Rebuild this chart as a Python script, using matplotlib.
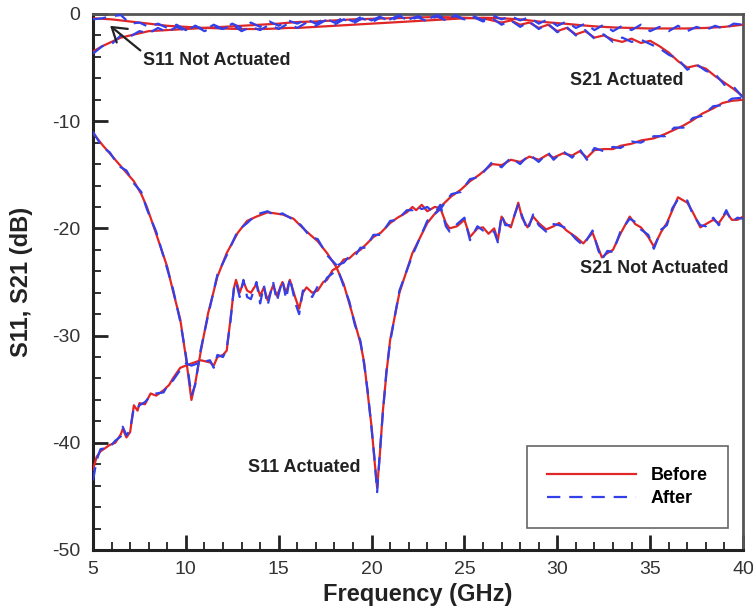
import matplotlib
matplotlib.use("Agg")
import matplotlib.pyplot as plt
from matplotlib.ticker import MultipleLocator

plt.rcParams['font.family'] = ['Liberation Sans', 'DejaVu Sans']

# ---------------- data ----------------
# S11 Actuated (dips at ~10.3 and ~20.3 GHz)
s11_act_f = [5.0, 5.5, 5.9, 6.4, 6.8, 7.2, 7.6, 7.9, 8.4, 9.0, 9.3, 9.7, 10.0, 10.3, 10.5, 10.8,
             11.2, 11.7, 12.2, 12.8, 13.3, 13.8, 14.4, 14.8, 15.2, 15.8, 16.2, 16.7, 17.1, 17.6,
             18.1, 18.5, 18.8, 19.1, 19.4, 19.6, 19.8, 20.0, 20.15, 20.3, 20.45, 20.6, 20.8, 21.0,
             21.5, 22.2, 23.0, 23.7, 24.3, 24.8, 25.3, 25.8, 26.5, 27.0, 27.5, 28.0, 28.5, 29.0,
             29.5, 29.8, 30.3, 30.8, 31.2, 31.6, 32.0, 32.5, 33.0, 33.4, 34.0, 34.5, 35.2, 35.8,
             36.3, 36.8, 37.3, 37.8, 38.4, 38.9, 39.4, 40.0]
s11_act_before = [-11.1, -12.2, -13.0, -14.0, -14.8, -15.6, -16.8, -18.0, -20.5, -23.6, -25.8, -28.5,
                  -32.0, -36.0, -34.5, -31.5, -27.9, -24.5, -22.3, -20.4, -19.3, -18.9, -18.5, -18.6,
                  -18.7, -19.1, -19.8, -20.6, -21.2, -22.3, -23.6, -25.2, -27.0, -28.8, -30.7, -32.5,
                  -35.5, -38.5, -41.5, -44.2, -41.0, -37.2, -33.5, -30.4, -26.0, -22.3, -19.5, -18.0,
                  -17.0, -16.4, -15.6, -15.0, -14.0, -14.1, -13.6, -13.8, -13.3, -13.6, -13.1, -13.4,
                  -13.0, -13.2, -12.8, -13.4, -12.7, -12.6, -12.6, -12.3, -12.1, -11.8, -11.6, -11.2,
                  -10.8, -10.4, -9.9, -9.3, -8.8, -8.3, -8.1, -8.0]
s11_act_after = [-11.0, -12.4, -12.9, -14.2, -14.6, -15.8, -16.6, -18.2, -20.3, -23.8, -25.6, -28.7,
                 -31.8, -35.6, -34.6, -31.3, -28.1, -24.3, -22.5, -20.2, -19.5, -18.7, -18.4, -18.8,
                 -18.6, -19.2, -19.7, -20.8, -21.0, -22.5, -23.4, -25.4, -26.8, -29.0, -30.5, -32.7,
                 -35.3, -38.7, -41.3, -44.6, -40.8, -37.4, -33.3, -30.6, -25.8, -22.5, -19.3, -18.2,
                 -16.8, -16.6, -15.4, -15.2, -13.8, -14.3, -13.4, -14.0, -13.1, -13.8, -12.9, -13.6,
                 -12.8, -13.4, -12.6, -13.6, -12.5, -12.8, -12.4, -12.5, -11.9, -12.0, -11.4, -11.4,
                 -10.6, -10.6, -9.7, -9.5, -8.6, -8.5, -7.9, -7.8]

# S21 Not Actuated
s21_nact_f = [5.0, 5.2, 5.4, 5.9, 6.2, 6.5, 6.6, 6.8, 7.0, 7.2, 7.4, 7.5, 7.8, 8.1, 8.4, 8.8, 9.1,
              9.3, 9.7, 10.0, 10.3, 10.8, 11.3, 11.5, 11.7, 12.0, 12.2, 12.4, 12.6, 12.7, 12.9, 13.1,
              13.3, 13.5, 13.8, 14.0, 14.2, 14.4, 14.7, 14.9, 15.2, 15.4, 15.6, 15.9, 16.1, 16.3,
              16.5, 16.8, 17.1, 17.4, 17.6, 17.9, 18.2, 18.5, 18.8, 19.1, 19.4, 19.7, 20.1, 20.5,
              21.0, 21.4, 21.9, 22.2, 22.4, 22.7, 23.0, 23.4, 23.7, 24.0, 24.2, 24.6, 25.0, 25.3,
              25.7, 26.0, 26.3, 26.6, 26.8, 27.0, 27.2, 27.5, 27.9, 28.1, 28.4, 28.7, 29.0, 29.4,
              29.8, 30.1, 30.5, 31.0, 31.4, 31.9, 32.2, 32.4, 32.7, 33.0, 33.4, 33.9, 34.2, 34.5,
              34.9, 35.2, 35.6, 35.9, 36.2, 36.5, 37.0, 37.3, 37.7, 38.0, 38.4, 38.7, 39.1, 39.4,
              39.7, 40.0]
s21_nact_before = [-42.5, -41.3, -40.8, -40.2, -40.0, -39.2, -38.7, -39.5, -39.0, -36.5, -37.0, -36.3,
                   -36.4, -35.4, -35.6, -35.1, -34.6, -34.0, -33.0, -32.8, -32.6, -32.3, -32.5, -32.8,
                   -32.0, -31.8, -31.4, -28.5, -25.5, -24.8, -26.0, -25.0, -25.8, -26.0, -25.2, -26.3,
                   -25.5, -26.7, -25.3, -26.3, -25.0, -26.0, -24.8, -26.5, -27.5, -26.0, -25.5, -26.0,
                   -25.8, -25.0, -24.8, -23.9, -23.6, -22.9, -22.8, -22.3, -22.0, -21.5, -20.8, -20.4,
                   -19.5, -19.0, -18.5, -18.0, -18.3, -17.8, -18.4, -18.0, -18.1, -19.5, -20.0, -19.8,
                   -19.2, -20.8, -20.0, -19.9, -20.5, -20.0, -21.1, -18.9, -19.5, -19.9, -17.6, -19.0,
                   -19.9, -18.9, -19.5, -20.1, -19.8, -19.5, -20.2, -20.8, -21.4, -20.4, -21.8, -22.7,
                   -22.3, -22.0, -20.5, -18.9, -19.6, -19.9, -20.8, -21.7, -20.3, -19.5, -18.3, -17.1,
                   -17.6, -18.5, -19.9, -19.6, -19.2, -19.5, -18.5, -19.2, -19.2, -18.9]
s21_nact_after = [-43.5, -41.6, -40.6, -40.4, -39.8, -39.4, -38.5, -39.3, -38.8, -36.7, -36.8, -36.5,
                  -36.2, -35.6, -35.4, -35.3, -34.4, -34.2, -33.2, -32.6, -32.8, -32.5, -32.3, -33.0,
                  -31.8, -32.0, -31.2, -28.7, -25.3, -25.0, -26.4, -24.8, -26.4, -26.6, -25.0, -27.0,
                  -25.3, -27.2, -25.0, -26.8, -24.8, -26.6, -24.6, -27.0, -28.0, -25.8, -25.8, -26.4,
                  -25.4, -25.3, -24.6, -24.2, -23.4, -23.2, -22.6, -22.6, -21.8, -21.8, -20.6, -20.6,
                  -19.3, -19.2, -18.3, -18.3, -17.9, -18.2, -18.0, -18.6, -17.8, -19.8, -20.3, -19.6,
                  -19.0, -21.1, -19.8, -20.2, -20.3, -20.3, -21.3, -18.7, -19.7, -19.7, -17.8, -18.8,
                  -20.2, -18.7, -19.7, -20.3, -19.6, -19.7, -20.0, -21.0, -21.6, -20.2, -22.0, -22.9,
                  -22.1, -22.2, -20.3, -19.1, -19.4, -20.1, -20.6, -21.9, -20.1, -19.7, -18.1, -17.3,
                  -17.4, -18.7, -19.7, -19.8, -19.0, -19.7, -18.3, -19.4, -19.0, -19.1]

# Top curves on a 0.5 GHz grid
top_f = [5.0, 5.5, 6.0, 6.5, 7.0, 7.5, 8.0, 8.5, 9.0, 9.5, 10.0, 10.5, 11.0, 11.5, 12.0, 12.5,
         13.0, 13.5, 14.0, 14.5, 15.0, 15.5, 16.0, 16.5, 17.0, 17.5, 18.0, 18.5, 19.0, 19.5, 20.0,
         20.5, 21.0, 21.5, 22.0, 22.5, 23.0, 23.5, 24.0, 24.5, 25.0, 25.5, 26.0, 26.5, 27.0, 27.5,
         28.0, 28.5, 29.0, 29.5, 30.0, 30.5, 31.0, 31.5, 32.0, 32.5, 33.0, 33.5, 34.0, 34.5, 35.0,
         35.5, 36.0, 36.5, 37.0, 37.5, 38.0, 38.5, 39.0, 39.5, 40.0]
s11_nact_before = [-0.4, -0.45, -0.5, -0.6, -0.7, -0.8, -0.9, -1.0, -1.1, -1.15, -1.2, -1.25, -1.3,
                   -1.32, -1.35, -1.38, -1.4, -1.4, -1.4, -1.38, -1.35, -1.3, -1.3, -1.25, -1.2,
                   -1.15, -1.1, -1.05, -1.0, -0.95, -0.9, -0.85, -0.8, -0.75, -0.7, -0.65, -0.6,
                   -0.55, -0.5, -0.45, -0.4, -0.38, -0.35, -0.37, -0.4, -0.45, -0.5, -0.6, -0.7,
                   -0.78, -0.85, -0.92, -1.0, -1.08, -1.15, -1.2, -1.25, -1.28, -1.3, -1.33, -1.35,
                   -1.35, -1.35, -1.35, -1.35, -1.32, -1.3, -1.25, -1.2, -1.1, -1.0]
s11_nact_after = [-0.5, -0.4, -0.2, -0.1, -0.9, -0.8, -1.2, -0.9, -1.3, -1.0, -1.5, -1.1, -1.6,
                  -1.2, -1.4, -1.0, -1.6, -1.2, -1.5, -1.0, -1.4, -0.9, -1.3, -0.8, -1.1, -0.6,
                  -1.0, -0.5, -0.9, -0.4, -0.8, -0.3, -0.7, -0.2, -0.6, -0.3, -0.7, -0.2, -0.6,
                  -0.1, -0.5, -0.2, -0.6, -0.1, -0.5, -0.2, -0.6, -0.3, -0.9, -0.5, -1.1, -0.7,
                  -1.3, -0.9, -1.5, -1.0, -1.6, -1.1, -1.5, -1.0, -1.6, -1.2, -1.6, -1.1, -1.6,
                  -1.2, -1.5, -1.1, -1.4, -0.9, -1.0]
s21_act_before = [-3.5, -3.0, -2.6, -2.2, -2.0, -1.8, -1.6, -1.55, -1.5, -1.45, -1.4, -1.35, -1.3,
                  -1.25, -1.2, -1.15, -1.1, -1.05, -1.0, -0.95, -0.9, -0.82, -0.75, -0.72, -0.7,
                  -0.65, -0.6, -0.55, -0.5, -0.48, -0.45, -0.42, -0.4, -0.38, -0.35, -0.32, -0.3,
                  -0.3, -0.3, -0.32, -0.35, -0.38, -0.4, -0.6, -0.8, -0.6, -1.0, -0.8, -1.3, -1.0,
                  -1.6, -1.3, -1.9, -1.6, -2.2, -2.0, -2.4, -2.6, -2.3, -2.7, -2.5, -3.0, -3.6,
                  -4.4, -5.0, -4.8, -5.1, -5.8, -6.4, -7.0, -7.7]
s21_act_after = [-3.7, -3.0, -2.8, -2.0, -2.1, -1.6, -1.8, -1.3, -1.7, -1.2, -1.6, -1.1, -1.5,
                 -1.0, -1.4, -0.9, -1.3, -0.8, -1.2, -0.7, -1.1, -0.6, -0.9, -0.5, -0.9, -0.4,
                 -0.8, -0.3, -0.7, -0.2, -0.6, -0.2, -0.5, -0.1, -0.5, -0.2, -0.5, -0.1, -0.4,
                 -0.2, -0.5, -0.3, -0.7, -0.4, -1.0, -0.6, -1.2, -0.7, -1.4, -0.9, -1.7, -1.2,
                 -2.0, -1.5, -2.3, -1.9, -2.6, -2.2, -2.6, -2.4, -2.8, -3.2, -3.8, -4.2, -5.2,
                 -4.7, -5.3, -5.6, -6.6, -6.8, -7.8]

x_ticks = [5, 10, 15, 20, 25, 30, 35, 40]
y_ticks = [0, -10, -20, -30, -40, -50]

RED = '#e02626'
BLUE = '#3140ea'

# ---------------- figure ----------------
fig = plt.figure(figsize=(7.53, 6.08), dpi=100)
ax = fig.add_axes([93/753, 58/608, 650/753, 536/608])

curves = [(s11_act_f, s11_act_before, s11_act_after),
          (s21_nact_f, s21_nact_before, s21_nact_after),
          (top_f, s11_nact_before, s11_nact_after),
          (top_f, s21_act_before, s21_act_after)]
for i, (f, b, a) in enumerate(curves):
    ax.plot(f, b, color=RED, lw=1.6, zorder=3, label='Before' if i == 0 else None)
for i, (f, b, a) in enumerate(curves):
    ax.plot(f, a, color=BLUE, lw=1.6, ls=(0, (6, 4)), zorder=4,
            label='After' if i == 0 else None)

ax.set_xlim(5, 40)
ax.set_ylim(-50, 0)
ax.set_xticks(x_ticks)
ax.set_yticks(y_ticks)
ax.set_xticklabels([str(v) for v in x_ticks])
ax.set_yticklabels([str(v) for v in y_ticks])
ax.xaxis.set_minor_locator(MultipleLocator(1))
ax.yaxis.set_minor_locator(MultipleLocator(2))
ax.tick_params(which='both', direction='in', top=False, right=False, colors='#222')
ax.tick_params(which='major', length=11, width=2, labelsize=14, labelcolor='#333')
ax.tick_params(which='minor', length=6, width=1.3)
ax.tick_params(axis='x', which='major', pad=8)
ax.tick_params(axis='y', which='major', pad=9)

for s in ['left', 'bottom']:
    ax.spines[s].set_linewidth(2.2)
    ax.spines[s].set_color('#222')
for s in ['top', 'right']:
    ax.spines[s].set_linewidth(2.0)
    ax.spines[s].set_color('#555')

ax.set_xlabel('Frequency (GHz)', fontsize=17, fontweight='bold', color='#222')
ax.set_ylabel('S11, S21 (dB)', fontsize=17, fontweight='bold', color='#222')
ax.xaxis.set_label_coords(0.5, -0.062)
ax.yaxis.set_label_coords(-0.092, 0.5)

tkw = dict(fontsize=13, fontweight='bold', color='#222', zorder=6)
ax.text(7.7, -4.3, 'S11 Not Actuated', ha='left', va='center', **tkw)
ax.text(33.76, -6.16, 'S21 Actuated', ha='center', va='center', **tkw)
ax.text(35.2, -23.7, 'S21 Not Actuated', ha='center', va='center', **tkw)
ax.text(16.39, -42.26, 'S11 Actuated', ha='center', va='center', **tkw)
ax.annotate('', xy=(5.92, -1.1), xytext=(7.55, -3.4),
            arrowprops=dict(arrowstyle='->,head_length=0.7,head_width=0.45',
                            color='#222', lw=1.6, mutation_scale=14,
                            shrinkA=0, shrinkB=0), zorder=6)

leg = ax.legend(loc='lower right', bbox_to_anchor=(0.977, 0.041), borderaxespad=0,
                frameon=True, fancybox=False, fontsize=13, handlelength=4.9,
                handletextpad=0.8, labelspacing=0.35, borderpad=1.15,
                prop={'weight': 'bold', 'size': 13})
leg.get_frame().set_edgecolor('#666')
leg.get_frame().set_linewidth(1.2)
leg.get_frame().set_alpha(1)

fig.savefig('out.png', dpi=100, facecolor='white')
